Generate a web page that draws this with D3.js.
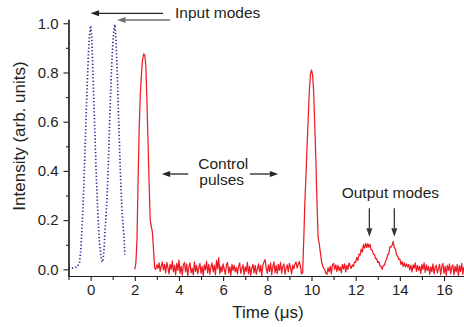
<!DOCTYPE html>
<html>
<head>
<meta charset="utf-8">
<script src="https://cdn.jsdelivr.net/npm/d3@7"></script>
<style>
  html, body { margin: 0; padding: 0; background: #fff; }
  svg { display: block; font-family: "Liberation Sans", Arial, Helvetica, sans-serif; }
</style>
</head>
<body>
<svg id="chart" width="464" height="327"></svg>
<script>
// ---------- data ----------
// Input modes (blue dotted trace)
const inputTime = [-1.0, -0.8, -0.6, -0.5, -0.45, -0.4, -0.35, -0.3, -0.25, -0.2, -0.15, -0.1, -0.05, 0.0,
  0.05, 0.1, 0.15, 0.2, 0.25, 0.3, 0.35, 0.4, 0.45, 0.5, 0.55, 0.6, 0.65, 0.7, 0.75, 0.8, 0.85, 0.9, 0.95,
  1.0, 1.05, 1.1, 1.15, 1.2, 1.25, 1.3, 1.35, 1.4, 1.45, 1.5, 1.55];
const inputValue = [0.005, 0.005, 0.01, 0.03, 0.07, 0.15, 0.24, 0.36, 0.49, 0.63, 0.76, 0.87, 0.95, 0.99,
  0.95, 0.82, 0.68, 0.54, 0.40, 0.29, 0.19, 0.11, 0.066, 0.035, 0.03, 0.07, 0.15, 0.22, 0.30, 0.42, 0.56, 0.70, 0.82,
  0.91, 0.97, 0.995, 0.93, 0.82, 0.67, 0.53, 0.39, 0.28, 0.20, 0.15, 0.06];

// Control pulses + output modes (red trace), sampled every 0.05 µs, one array per stretch
const sampleStep = 0.05;
const pulse1Start = 2.00;
const pulse1 = [0.00, 0.025, 0.12, 0.36, 0.57, 0.71, 0.79, 0.85, 0.875, 0.872,
  0.83, 0.69, 0.52, 0.35, 0.20, 0.175, 0.15, 0.08, 0.005, 0.00];
const noiseAStart = 3.00;
const noiseA = [0.018, 0.004, 0.026, -0.008, 0.014, 0.030, -0.002, 0.020, -0.014, 0.028,
  0.008, -0.018, 0.020, 0.000, 0.034, -0.010, 0.016, -0.022, 0.024, -0.004,
  0.038, -0.016, 0.012, -0.024, 0.018, 0.028, -0.010, 0.022, -0.026, 0.010,
  0.026, -0.014, 0.004, -0.022, 0.030, -0.008, 0.016, -0.018, 0.006, 0.024,
  -0.016, 0.012, -0.026, 0.018, -0.002, 0.032, -0.014, 0.020, -0.020, 0.010,
  0.026, -0.010, 0.016, -0.022, 0.036, 0.002, 0.048, -0.018, 0.012, -0.010,
  0.022, 0.000, -0.020, 0.018, 0.028, -0.014, 0.010, -0.024, 0.020, -0.004,
  0.016, -0.010, 0.008, -0.018, 0.012, 0.026, -0.016, 0.004, 0.018, -0.022,
  0.010, -0.008, 0.028, -0.018, 0.012, -0.024, 0.006, 0.020, -0.014, 0.016,
  -0.020, 0.002, 0.022, -0.010, 0.016, -0.026, 0.018, 0.030, 0.040, 0.004,
  -0.016, 0.018, -0.008, 0.026, -0.022, 0.010, 0.030, -0.014, 0.016, -0.018,
  0.020, -0.004, 0.028, -0.016, 0.012, 0.022, -0.020, 0.006, 0.018, -0.010,
  0.024, 0.008, -0.018, 0.016, 0.002, 0.022, 0.030, 0.006, 0.020, 0.032,
  0.012, -0.018];
const pulse2Start = 9.60;
const pulse2 = [-0.015, 0.12, 0.27, 0.38, 0.50, 0.61, 0.72, 0.79, 0.81, 0.79,
  0.72, 0.58, 0.44, 0.27, 0.13, 0.105, 0.07, 0.035, 0.015, 0.005];
const noiseBStart = 10.60;
const noiseB = [0.000, -0.016, -0.020, 0.006, -0.010, 0.012, -0.018, 0.020, 0.024, 0.000,
  0.018, -0.008, 0.016, -0.004, 0.010, -0.014, 0.020, 0.002, 0.022, -0.010,
  0.016, 0.000, 0.026, 0.014, 0.004, 0.018];
const outputStart = 11.90;
const outputModes = [0.012, 0.030, 0.028, 0.048, 0.036, 0.062, 0.058, 0.082, 0.070, 0.100,
  0.086, 0.106, 0.088, 0.104, 0.090, 0.102, 0.080, 0.078, 0.062, 0.060,
  0.044, 0.044, 0.028, 0.032, 0.014, 0.012, 0.000, 0.016, 0.016, 0.032,
  0.040, 0.060, 0.062, 0.092, 0.090, 0.098, 0.114, 0.088, 0.082, 0.060,
  0.054, 0.040, 0.042, 0.020, 0.032, 0.012, 0.026, 0.010, 0.022];
const noiseCStart = 14.35;
const noiseC = [0.010, 0.020, -0.002, 0.016, -0.010, 0.018, 0.004, 0.026, -0.008, 0.016,
  -0.004, 0.012, -0.016, 0.020, 0.000, 0.026, -0.012, 0.018, -0.004, 0.012,
  -0.020, 0.010, -0.010, 0.022, -0.018, 0.008, 0.016, -0.014, 0.004, 0.020,
  -0.022, 0.010, 0.024, -0.016, 0.012, -0.024, 0.016, -0.004, 0.022, -0.018,
  0.008, 0.018, -0.022, 0.012, -0.010, 0.020, -0.026, 0.014, -0.008, 0.024,
  -0.020, 0.010];

// Axes ticks
const xMajorTicks = [0, 2, 4, 6, 8, 10, 12, 14, 16];
const xMinorTicks = [-1, 1, 3, 5, 7, 9, 11, 13, 15];
const yMajorTicks = [0.0, 0.2, 0.4, 0.6, 0.8, 1.0];
const yMinorTicks = [0.1, 0.3, 0.5, 0.7, 0.9];

// ---------- build ----------
const inputData = inputTime.map((t, i) => ({ t, v: inputValue[i] }));
const segments = [
  [pulse1Start, pulse1], [noiseAStart, noiseA], [pulse2Start, pulse2],
  [noiseBStart, noiseB], [outputStart, outputModes], [noiseCStart, noiseC]
];
const redData = [];
segments.forEach(([start, vals]) => vals.forEach((v, i) => redData.push({ t: start + i * sampleStep, v })));

const svg = d3.select("#chart");
const ink = "#231f20";

const x = d3.scaleLinear().domain([-1, 16.9]).range([68.5, 463.9]);
const y = d3.scaleLinear().domain([-0.027, 1.016]).range([276, 19.3]);

const line = d3.line().x(d => x(d.t)).y(d => y(d.v));

// traces
svg.append("path").datum(inputData).attr("d", line)
  .attr("fill", "none").attr("stroke", "#2e3192").attr("stroke-width", 1.7)
  .attr("stroke-dasharray", "1.3,2.1");

svg.append("path").datum(redData).attr("d", line)
  .attr("fill", "none").attr("stroke", "#ed1c24").attr("stroke-width", 1.25)
  .attr("stroke-linejoin", "round");

// axes
function styleAxis(g) {
  g.selectAll("path.domain").attr("stroke", ink).attr("stroke-width", 1.2);
  g.selectAll(".tick line").attr("stroke", ink).attr("stroke-width", 1.1);
  g.selectAll(".tick text").attr("fill", ink).style("font-size", "15px")
    .style("font-family", "'Liberation Sans', Arial, sans-serif");
}

const xAxisG = svg.append("g").attr("transform", "translate(0,276)")
  .call(d3.axisBottom(x).tickValues(xMajorTicks).tickFormat(d3.format("d"))
    .tickSize(5).tickSizeOuter(0).tickPadding(3));
styleAxis(xAxisG);
const xMinorG = svg.append("g").attr("transform", "translate(0,276)")
  .call(d3.axisBottom(x).tickValues(xMinorTicks).tickFormat("").tickSize(4).tickSizeOuter(0));
styleAxis(xMinorG);

const yAxisG = svg.append("g").attr("transform", "translate(68.5,0)")
  .call(d3.axisLeft(y).tickValues(yMajorTicks).tickFormat(d3.format(".1f"))
    .tickSize(5).tickSizeOuter(0).tickPadding(5));
styleAxis(yAxisG);
const yMinorG = svg.append("g").attr("transform", "translate(68.5,0)")
  .call(d3.axisLeft(y).tickValues(yMinorTicks).tickFormat("").tickSize(2.5).tickSizeOuter(0));
styleAxis(yMinorG);

// titles
svg.append("text").attr("x", 268).attr("y", 318).attr("text-anchor", "middle")
  .attr("fill", ink).style("font-size", "17px").text("Time (μs)");
svg.append("text").attr("transform", "translate(25,136) rotate(-90)").attr("text-anchor", "middle")
  .attr("fill", ink).style("font-size", "17px").text("Intensity (arb. units)");

// annotations
function arrow(x1, y1, x2, y2, color) {
  // from (x1,y1) tail to (x2,y2) tip
  const ang = Math.atan2(y2 - y1, x2 - x1);
  const L = 8.5, Wd = 3;
  const bx = x2 - L * Math.cos(ang), by = y2 - L * Math.sin(ang);
  svg.append("line").attr("x1", x1).attr("y1", y1).attr("x2", bx).attr("y2", by)
    .attr("stroke", color).attr("stroke-width", 1.3);
  const px = -Math.sin(ang) * Wd, py = Math.cos(ang) * Wd;
  svg.append("path")
    .attr("d", `M${x2},${y2}L${bx + px},${by + py}L${bx - px},${by - py}Z`)
    .attr("fill", color);
}
const annFont = "15.5px";
svg.append("text").attr("x", 175).attr("y", 18.3).attr("fill", ink).style("font-size", annFont).text("Input modes");
arrow(163, 13.3, x(0), 13.3, "#262626");
arrow(170, 20, x(1.2), 20, "#6e6e6e");

svg.append("text").attr("x", 198.3).attr("y", 169).attr("fill", ink).style("font-size", annFont).text("Control");
svg.append("text").attr("x", 199.3).attr("y", 185).attr("fill", ink).style("font-size", annFont).text("pulses");
arrow(188.3, 174, 161.7, 174, "#262626");
arrow(250, 174, 278.3, 174, "#262626");

svg.append("text").attr("x", 341.7).attr("y", 198).attr("fill", ink).style("font-size", annFont).text("Output modes");
arrow(x(12.62), 208.3, x(12.62), 236.7, "#333");
arrow(x(13.75), 208.3, x(13.75), 236.7, "#333");
</script>
</body>
</html>
